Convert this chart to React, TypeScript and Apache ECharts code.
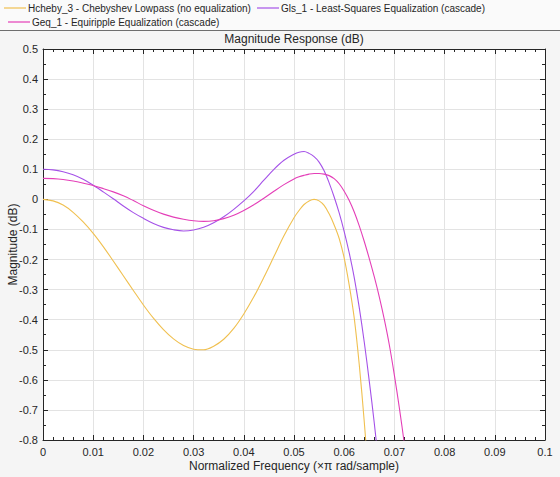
import React, { useEffect, useRef } from "react";
import * as echarts from "echarts";

const freq = [
  0, 0.002, 0.004, 0.006, 0.008, 0.01, 0.012, 0.014, 0.016, 0.018, 0.02, 0.022, 0.024, 0.026, 0.028, 0.03,
  0.032, 0.034, 0.036, 0.038, 0.04, 0.042, 0.044, 0.046, 0.048, 0.05,
  0.051, 0.052, 0.053, 0.054, 0.055, 0.056, 0.057, 0.058, 0.059, 0.06, 0.061, 0.062, 0.063, 0.064, 0.065,
  0.066, 0.067, 0.068, 0.069, 0.07, 0.071, 0.072, 0.073,
];

const chebyDb = [
  0, -0.005, -0.019, -0.043, -0.075, -0.113, -0.157, -0.205, -0.254, -0.303, -0.351, -0.395, -0.433, -0.464,
  -0.486, -0.498, -0.5, -0.488, -0.465, -0.429, -0.381, -0.324, -0.259, -0.19, -0.121, -0.061,
  -0.037, -0.017, -0.005, 0.0, -0.005, -0.02, -0.048, -0.085, -0.13, -0.195, -0.285, -0.395, -0.55, -0.74, -0.96,
];

const glsDb = [
  0.1, 0.098, 0.092, 0.082, 0.067, 0.047, 0.025, 0.002, -0.022, -0.044, -0.063, -0.08, -0.093, -0.101, -0.105,
  -0.102, -0.093, -0.078, -0.058, -0.033, -0.005, 0.027, 0.064, 0.1, 0.13, 0.15,
  0.157, 0.159, 0.153, 0.142, 0.124, 0.095, 0.055, 0.008, -0.045, -0.107, -0.178, -0.26, -0.36, -0.475, -0.605,
  -0.745, -0.9,
];

const geqDb = [
  0.07, 0.069, 0.066, 0.061, 0.054, 0.046, 0.036, 0.025, 0.012, -0.004, -0.021, -0.036, -0.049, -0.059, -0.066,
  -0.071, -0.073, -0.071, -0.064, -0.053, -0.037, -0.018, 0.004, 0.027, 0.049, 0.068,
  0.075, 0.08, 0.084, 0.086, 0.086, 0.084, 0.079, 0.069, 0.052, 0.027, -0.004, -0.042, -0.088, -0.14, -0.197,
  -0.258, -0.325, -0.4, -0.485, -0.585, -0.695, -0.815, -0.95,
];

const seriesNames = [
  "Hcheby_3 - Chebyshev Lowpass (no equalization)",
  "Gls_1 - Least-Squares Equalization (cascade)",
  "Geq_1 - Equiripple Equalization (cascade)",
];
const seriesColors = ["#f0c050", "#a552e8", "#e43fb8"];

const FONT = "Liberation Sans, Arial, sans-serif";
const TXT = "#262626";

function pairs(vals: number[]) {
  return vals.map((v, i) => [freq[i], v]);
}

export default function App() {
  const ref = useRef<HTMLDivElement>(null);
  useEffect(() => {
    const chart = echarts.init(ref.current!, undefined, { renderer: "svg" });
    const fmt = (v: number) => String(+v.toFixed(3));
    const tickCommon = { show: true, inside: true, length: 5, lineStyle: { color: TXT } };
    const minorCommon = { show: true, length: 3, lineStyle: { color: TXT } };
    chart.setOption({
      animation: false,
      backgroundColor: "#f5f5f5",
      textStyle: { fontFamily: FONT },
      graphic: [
        { type: "rect", shape: { x: 0, y: 0, width: 560, height: 30 }, style: { fill: "#fafafa" }, z: -10 },
        { type: "line", shape: { x1: 0, y1: 30.5, x2: 560, y2: 30.5 }, style: { stroke: "#6e6e6e", lineWidth: 1 } },
      ],
      title: {
        text: "Magnitude Response (dB)",
        left: 294,
        textAlign: "center",
        top: 33,
        padding: 0,
        textStyle: { fontSize: 12, fontWeight: "normal", color: TXT, fontFamily: FONT },
      },
      legend: [
        { data: [seriesNames[0]], left: 4, top: 3 },
        { data: [seriesNames[1]], left: 257, top: 3 },
        { data: [seriesNames[2]], left: 8, top: 17 },
      ].map((l) => ({
        ...l,
        icon: "rect",
        itemWidth: 22,
        itemHeight: 1.2,
        padding: 0,
        textStyle: { fontSize: 10, color: TXT, fontFamily: FONT, padding: [0, 0, 0, -3] },
      })),
      grid: {
        left: 43,
        right: 15,
        top: 49,
        bottom: 37,
        show: true,
        backgroundColor: "#ffffff",
        borderWidth: 0,
        outerBoundsMode: "none",
        containLabel: false,
      },
      xAxis: [
        {
          type: "value",
          min: 0,
          max: 0.1,
          interval: 0.01,
          position: "bottom",
          name: "Normalized Frequency (×π rad/sample)",
          nameLocation: "middle",
          nameGap: 20,
          nameMoveOverlap: false,
          nameTextStyle: { fontSize: 12, color: TXT, fontFamily: FONT },
          axisLine: { show: true, onZero: false, lineStyle: { color: TXT } },
          axisTick: tickCommon,
          minorTick: { ...minorCommon, splitNumber: 5 },
          axisLabel: { fontSize: 11, color: TXT, margin: 6, formatter: fmt, fontFamily: FONT },
          splitLine: { show: true, lineStyle: { color: "#e3e3e3" } },
        },
        {
          type: "value",
          min: 0,
          max: 0.1,
          interval: 0.01,
          position: "top",
          axisLine: { show: true, onZero: false, lineStyle: { color: TXT } },
          axisTick: tickCommon,
          minorTick: { ...minorCommon, splitNumber: 5 },
          axisLabel: { show: false },
          splitLine: { show: false },
        },
      ],
      yAxis: [
        {
          type: "value",
          min: -0.8,
          max: 0.5,
          interval: 0.1,
          position: "left",
          name: "Magnitude (dB)",
          nameLocation: "middle",
          nameGap: 24,
          nameMoveOverlap: false,
          nameTextStyle: { fontSize: 12, color: TXT, fontFamily: FONT },
          axisLine: { show: true, onZero: false, lineStyle: { color: TXT } },
          axisTick: tickCommon,
          minorTick: { ...minorCommon, splitNumber: 2 },
          axisLabel: { fontSize: 11, color: TXT, margin: 5, formatter: fmt, fontFamily: FONT },
          splitLine: { show: true, lineStyle: { color: "#e3e3e3" } },
        },
        {
          type: "value",
          min: -0.8,
          max: 0.5,
          interval: 0.1,
          position: "right",
          axisLine: { show: true, onZero: false, lineStyle: { color: TXT } },
          axisTick: tickCommon,
          minorTick: { ...minorCommon, splitNumber: 2 },
          axisLabel: { show: false },
          splitLine: { show: false },
        },
      ],
      series: [chebyDb, glsDb, geqDb].map((vals, i) => ({
        name: seriesNames[i],
        type: "line",
        data: pairs(vals),
        showSymbol: false,
        smooth: 0.35,
        clip: true,
        lineStyle: { width: 1.1, color: seriesColors[i] },
        itemStyle: { color: seriesColors[i] },
      })),
    });
    return () => chart.dispose();
  }, []);
  return (
    <div
      ref={ref}
      style={{ position: "fixed", left: 0, top: 0, width: 560, height: 477 }}
    />
  );
}
